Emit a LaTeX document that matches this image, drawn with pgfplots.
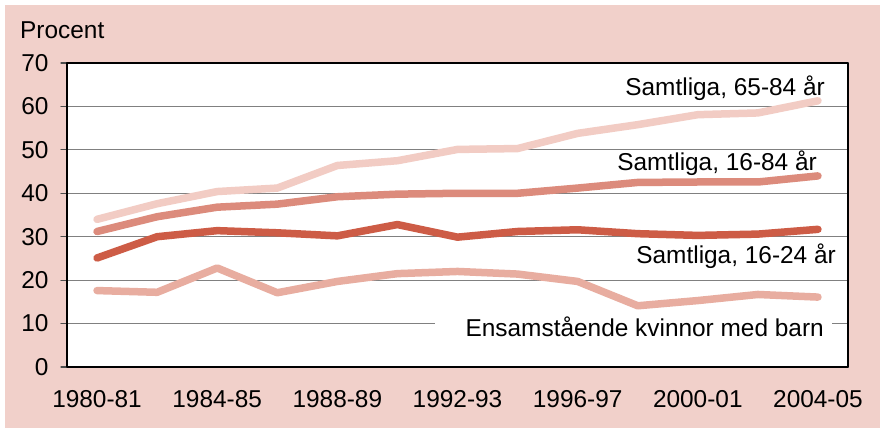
\documentclass[border=0pt]{standalone}
\usepackage{fontspec}
\setmainfont{Liberation Sans}
\usepackage{pgfplots}
\pgfplotsset{compat=1.18}

\definecolor{bgpink}{RGB}{241,208,202}
\definecolor{cOld}{RGB}{242,204,196}
\definecolor{cAll}{RGB}{220,139,124}
\definecolor{cYoung}{RGB}{205,92,70}
\definecolor{cSingle}{RGB}{232,173,160}

\newcommand{\lbl}{\fontsize{24.5}{29}\selectfont}

\begin{document}
\begin{tikzpicture}[x=1bp,y=1bp]
\path[use as bounding box] (0,0) rectangle (880,428);
\fill[bgpink] (5,0) rectangle (880,423);
\begin{axis}[
  at={(67bp,61bp)}, anchor=south west,
  scale only axis,
  width=781bp, height=304bp,
  axis background/.style={fill=white},
  xmin=-0.5, xmax=12.5,
  ymin=0, ymax=70,
  xtick={0,2,4,6,8,10,12},
  xticklabels={1980-81,1984-85,1988-89,1992-93,1996-97,2000-01,2004-05},
  major x tick style={draw=none},
  extra x ticks={-0.5,0.5,1.5,2.5,3.5,4.5,5.5,6.5,7.5,8.5,9.5,10.5,11.5,12.5},
  extra x tick labels={},
  extra x tick style={major tick length=7bp, tick style={black, line width=1.2bp}},
  ytick={0,10,...,70},
  y tick style={black!70, line width=1.2bp},
  major tick length=6bp,
  tick align=outside,
  tick pos=left,
  ymajorgrids,
  grid style={black!50, line width=1bp},
  axis line style={line width=1.2bp},
  tick label style={font=\lbl},
  /pgf/number format/assume math mode=true,
  yticklabel style={xshift=-9bp},
  xticklabel style={yshift=-14bp},
  line join=round, line cap=round,
]
\addplot[cOld, line width=7.5bp] coordinates {
  (0,34.0) (1,37.6) (2,40.4) (3,41.2) (4,46.4) (5,47.5) (6,50.1)
  (7,50.3) (8,53.8) (9,55.8) (10,58.1) (11,58.5) (12,61.3)
};
\addplot[cAll, line width=7.5bp] coordinates {
  (0,31.2) (1,34.6) (2,36.8) (3,37.5) (4,39.2) (5,39.8) (6,40.0)
  (7,40.0) (8,41.2) (9,42.5) (10,42.6) (11,42.6) (12,44.0)
};
\addplot[cYoung, line width=7.5bp] coordinates {
  (0,25.1) (1,30.0) (2,31.4) (3,30.9) (4,30.2) (5,32.8) (6,29.9)
  (7,31.2) (8,31.6) (9,30.7) (10,30.3) (11,30.6) (12,31.7)
};
\addplot[cSingle, line width=7.5bp] coordinates {
  (0,17.6) (1,17.2) (2,22.8) (3,17.1) (4,19.7) (5,21.5) (6,22.0)
  (7,21.4) (8,19.7) (9,14.1) (10,15.3) (11,16.7) (12,16.1)
};
\draw[black, line width=2.2bp] (rel axis cs:0,1) -- (rel axis cs:0,0) -- (rel axis cs:1,0);
\end{axis}
\node[anchor=base west, inner sep=0, font=\lbl] at (20,389) {Procent};
\node[anchor=base east, inner sep=0, font=\lbl] at (825,333) {Samtliga, 65-84 år};
\node[anchor=base east, inner sep=0, font=\lbl] at (817,258) {Samtliga, 16-84 år};
\node[anchor=base east, inner sep=0, font=\lbl] at (836,164.7) {Samtliga, 16-24 år};
\fill[white] (435,87) rectangle (832,113);
\node[anchor=base east, inner sep=0, font=\lbl] at (824,92) {Ensamstående kvinnor med barn};
\end{tikzpicture}
\end{document}
